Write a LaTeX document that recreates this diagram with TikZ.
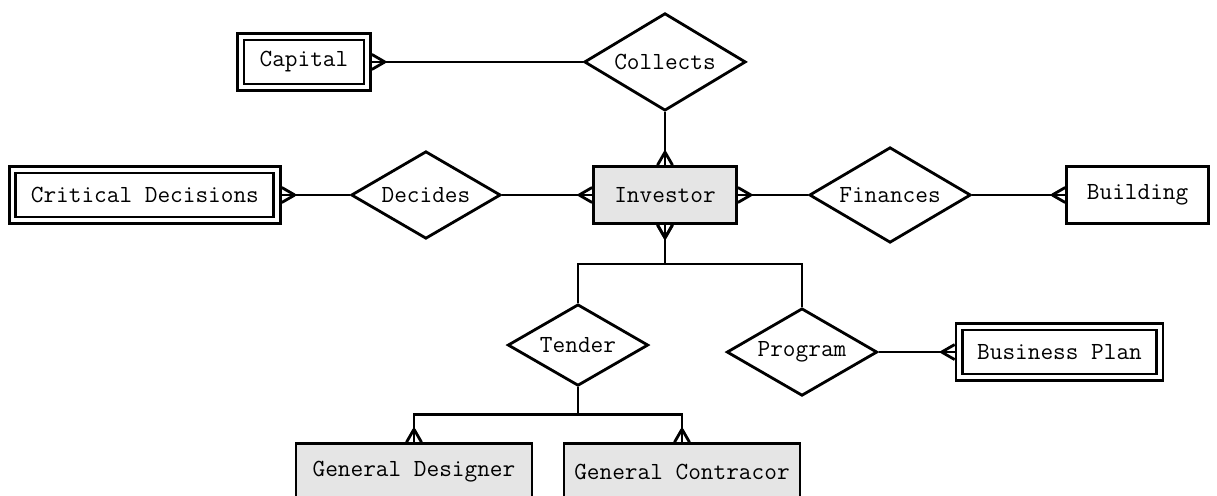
\documentclass[tikz,border=0pt]{standalone}
\usepackage{fontspec}
\usepackage{tikz}
\usetikzlibrary{positioning,shapes.geometric,decorations.markings}

\begin{document}
\begin{tikzpicture}[
font=\ttfamily\fontsize{14}{16}\selectfont,
line width=1.6pt,
entity/.style={draw, minimum width=2.86cm, minimum height=1.14cm, inner sep=0pt},
owner/.style={entity, fill=black!10},
weak/.style={draw, double, double distance=2.1pt, outer sep=2.65pt, minimum height=1.01cm, inner sep=0pt},
rel/.style={draw, diamond, shape aspect=1.7, inner sep=0pt},
crowstart/.style={decoration={markings, mark=at position 0 with {\draw (0.26,0) -- (0,0.15) (0.26,0) -- (0,-0.15);}}, postaction={decorate}},
crowend/.style={decoration={markings, mark=at position 1 with {\draw (-0.26,0) -- (0,0.15) (-0.26,0) -- (0,-0.15);}}, postaction={decorate}}
]
\useasboundingbox (-13.3,-6.0) rectangle (11.04,3.9);
\node[owner] (investor) {Investor};
\node[rel, minimum width=3.23cm, minimum height=1.95cm, above=1.06cm of investor] (collects) {Collects};
\node[weak, minimum width=2.53cm, left=4.22cm of collects] (capital) {Capital};
\node[rel, minimum width=2.99cm, minimum height=1.75cm, left=1.8cm of investor] (decides) {Decides};
\node[weak, minimum width=5.29cm, left=1.36cm of decides] (critical) {Critical Decisions};
\node[rel, minimum width=3.23cm, minimum height=1.91cm, right=1.4cm of investor] (finances) {Finances};
\node[entity, minimum width=2.84cm, right=1.86cm of finances] (building) {Building};
\node[rel, minimum width=2.81cm, minimum height=1.63cm, below=1.56cm of investor, xshift=-1.74cm] (tender) {Tender};
\node[rel, minimum width=3.01cm, minimum height=1.75cm, below=1.64cm of investor, xshift=2.74cm] (program) {Program};
\node[weak, minimum width=4.01cm, right=1.52cm of program] (plan) {Business Plan};
\node[owner, minimum width=4.72cm, below=1.1cm of tender, xshift=-3.28cm] (designer) {General Designer};
\node[owner, minimum width=4.72cm, below=1.1cm of tender, xshift=2.08cm] (contractor) {General Contracor};
% relationships
\draw[crowstart] (capital.east) -- (collects.west);
\draw[crowend] (collects.south) -- (investor.north);
\draw[crowstart] (critical.east) -- (decides.west);
\draw[crowend] (decides.east) -- (investor.west);
\draw[crowstart] (investor.east) -- (finances.west);
\draw[crowend] (finances.east) -- (building.west);
\draw[crowstart] (investor.south) -- ++(0,-0.78) -| (tender.north);
\draw[crowstart] (investor.south) -- ++(0,-0.78) -| (program.north);
\draw[crowend] (tender.south) -- ++(0,-0.54) -| (designer.north);
\draw[crowend] (tender.south) -- ++(0,-0.54) -| (contractor.north);
\draw[crowend] (program.east) -- (plan.west);
\end{tikzpicture}
\end{document}
